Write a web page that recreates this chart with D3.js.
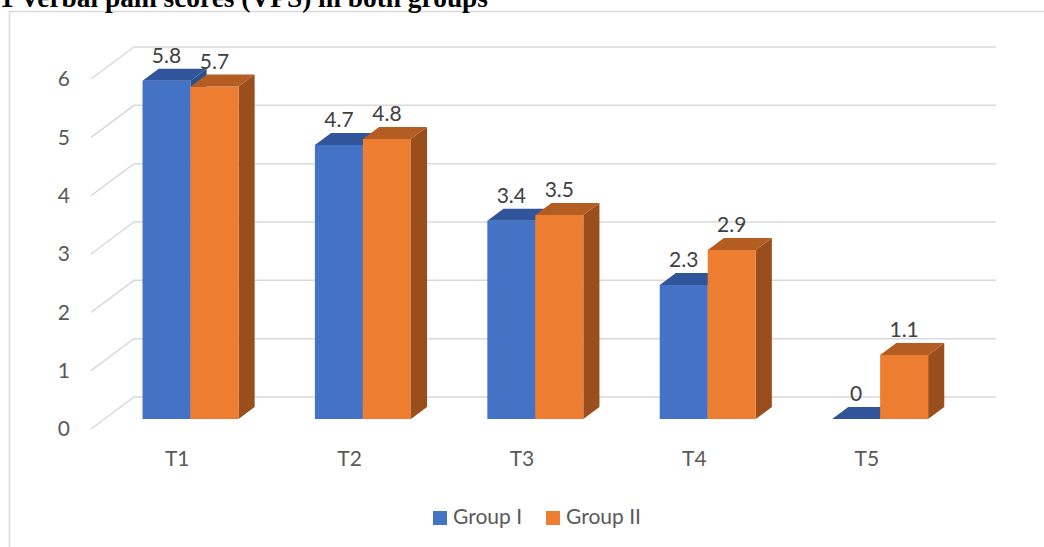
<!DOCTYPE html>
<html>
<head>
<meta charset="utf-8">
<script src="https://cdn.jsdelivr.net/npm/d3@7"></script>
<style>
  html, body { margin: 0; padding: 0; background: #fff; overflow: hidden; }
  svg { display: block; }
</style>
</head>
<body>
<svg id="chart" width="1044" height="547"></svg>
<script>
const categories = ["T1", "T2", "T3", "T4", "T5"];
const seriesNames = ["Group I", "Group II"];
const groupI = [5.8, 4.7, 3.4, 2.3, 0];
const groupII = [5.7, 4.8, 3.5, 2.9, 1.1];
const yTicks = [0, 1, 2, 3, 4, 5, 6];
const titleText = "1 Verbal pain scores (VPS) in both groups";

const frontColors = ["#4472C4", "#ED7D31"];
const topColors = ["#30559A", "#B45D23"];
const sideColors = ["#2B4E8C", "#9A4E1D"];
const textColor = "#595959";
const gridColor = "#D9D9D9";
const fontFam = "Lato, 'Open Sans', sans-serif";
const fontSize = 21;

const svg = d3.select("#chart");
const W = 1044, H = 547;

// depth projection
const depthX = 43, depthY = -32;
const zFront = 0.31, zBack = 0.685;

const x = d3.scaleBand().domain(categories).range([91, 953]).paddingInner(0).paddingOuter(0);
const y = d3.scaleLinear().domain([0, 6]).range([429, 79]);
const groupW = 96;
const xs = d3.scaleBand().domain(seriesNames).range([0, groupW]).padding(0);

function P(px, v, z) { return [px + z * depthX, y(v) + z * depthY]; }

// chart border
svg.append("rect")
  .attr("x", 9.5).attr("y", 11.5)
  .attr("width", W + 20).attr("height", H + 20)
  .attr("fill", "none").attr("stroke", gridColor).attr("stroke-width", 1.5);

// title (cut at the top edge as in the reference)
svg.append("text")
  .attr("x", 0).attr("y", 6.5)
  .attr("text-anchor", "start")
  .attr("font-family", "'Liberation Serif', 'Times New Roman', serif")
  .attr("font-weight", "bold")
  .attr("font-size", 26.5)
  .attr("textLength", 488)
  .attr("lengthAdjust", "spacingAndGlyphs")
  .attr("fill", "#000")
  .text(titleText);

// gridlines: floor diagonal + back wall
const xLeft = x.range()[0], xRight = x.range()[1];
const grid = svg.append("g");
yTicks.forEach(t => {
  const a = P(xLeft, t, 0), b = P(xLeft, t, 1), c = P(xRight, t, 1);
  grid.append("polyline")
    .attr("points", [a, b, c].map(p => p.join(",")).join(" "))
    .attr("fill", "none").attr("stroke", gridColor).attr("stroke-width", 1.5);
});

// y tick labels
svg.append("g").selectAll("text").data(yTicks).join("text")
  .attr("x", 70).attr("y", d => y(d) + 2)
  .attr("text-anchor", "end")
  .attr("dominant-baseline", "middle")
  .attr("font-family", fontFam)
  .attr("font-size", fontSize)
  .attr("fill", textColor)
  .text(d => d);

// category labels
svg.append("g").selectAll("text").data(categories).join("text")
  .attr("x", d => x(d) + x.bandwidth() / 2)
  .attr("y", 461)
  .attr("text-anchor", "middle")
  .attr("dominant-baseline", "middle")
  .attr("font-family", fontFam)
  .attr("font-size", fontSize)
  .attr("fill", textColor)
  .text(d => d);

// bars
const seriesVals = [groupI, groupII];
const bars = svg.append("g");
const labels = [];
categories.forEach((cat, i) => {
  const gx = x(cat) + (x.bandwidth() - groupW) / 2;
  seriesNames.forEach((s, si) => {
    const v = seriesVals[si][i];
    const x0 = gx + xs(s), x1 = x0 + xs.bandwidth();
    const poly = pts => pts.map(p => p.join(",")).join(" ");
    const g = bars.append("g");
    if (v > 0) {
      g.append("polygon")
        .attr("points", poly([P(x1, 0, zFront), P(x1, 0, zBack), P(x1, v, zBack), P(x1, v, zFront)]))
        .attr("fill", sideColors[si]);
      g.append("polygon")
        .attr("points", poly([P(x0, 0, zFront), P(x1, 0, zFront), P(x1, v, zFront), P(x0, v, zFront)]))
        .attr("fill", frontColors[si]);
    }
    g.append("polygon")
      .attr("points", poly([P(x0, v, zFront), P(x1, v, zFront), P(x1, v, zBack), P(x0, v, zBack)]))
      .attr("fill", topColors[si]);
    labels.push({ x: (x0 + x1) / 2 + zFront * depthX, y: y(v) + zBack * depthY - 11, v });
  });
});

svg.append("g").selectAll("text").data(labels).join("text")
  .attr("x", d => d.x).attr("y", d => d.y)
  .attr("text-anchor", "middle")
  .attr("dominant-baseline", "middle")
  .attr("font-family", fontFam)
  .attr("font-size", fontSize)
  .attr("fill", "#404040")
  .text(d => d.v);

// legend
const legendItems = [{ name: seriesNames[0], x: 433 }, { name: seriesNames[1], x: 546 }];
const lg = svg.append("g");
legendItems.forEach((d, i) => {
  lg.append("rect").attr("x", d.x).attr("y", 511).attr("width", 14).attr("height", 14).attr("fill", frontColors[i]);
  lg.append("text")
    .attr("x", d.x + 20).attr("y", 519)
    .attr("dominant-baseline", "middle")
    .attr("font-family", fontFam)
    .attr("font-size", fontSize)
    .attr("fill", textColor)
    .text(d.name);
});
</script>
</body>
</html>
